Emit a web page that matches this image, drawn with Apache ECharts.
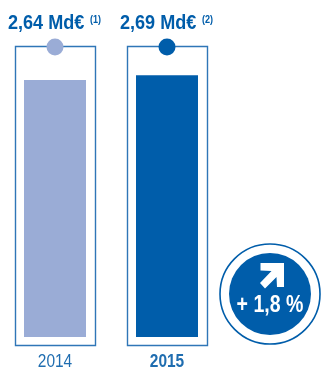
<!DOCTYPE html>
<html>
<head>
<meta charset="utf-8">
<style>html,body{margin:0;padding:0;background:#fff}#chart{width:322px;height:369px}</style>
<script src="https://cdn.jsdelivr.net/npm/echarts@6/dist/echarts.min.js"></script>
</head>
<body>
<div id="chart"></div>
<script>
// Revenue for two years, in billions of euros
const years = ['2014', '2015'];
const values = [2.64, 2.69];
const valueLabels = ['2,64 Md€', '2,69 Md€'];
const notes = ['(1)', '(2)'];
const barColors = ['#9AACD6', '#005DAA'];
const frameTop = 2.99;
const frameBase = -0.08;
const changeLabel = '+ 1,8 %';

const sans = '"Liberation Sans", sans-serif';
const blue = '#005DAA';
const textBlue = '#1F6DB0';
const squeeze = 0.86;

const chart = echarts.init(document.getElementById('chart'), null, { renderer: 'canvas' });
chart.setOption({
  animation: false,
  backgroundColor: '#fff',
  grid: { left: -1, width: 224, top: 45, height: 292 + 0.1 * 97.3, outerBoundsMode: 'none' },
  xAxis: {
    type: 'category',
    data: years,
    axisLine: { show: false },
    axisTick: { show: false },
    axisLabel: { show: false }
  },
  yAxis: { type: 'value', min: -0.1, max: 3, show: false },
  series: [
    {
      // outlined frame behind each bar
      type: 'custom',
      z: 1,
      data: years.map((y, i) => [i, frameBase, frameTop]),
      encode: { x: 0, y: [1, 2] },
      renderItem: (params, api) => {
        const a = api.coord([api.value(0), api.value(1)]);
        const b = api.coord([api.value(0), api.value(2)]);
        return {
          type: 'rect',
          shape: { x: Math.round(a[0] - 40) + 0.5, y: Math.round(b[1]) + 0.5, width: 80, height: Math.round(a[1] - b[1]) },
          style: { fill: '#fff', stroke: '#2F76B7', lineWidth: 1.4 }
        };
      }
    },
    {
      type: 'bar',
      z: 2,
      barWidth: 62,
      data: values.map((v, i) => ({ value: v, itemStyle: { color: barColors[i] } }))
    },
    {
      // dot sitting on the frame
      type: 'scatter',
      z: 3,
      symbolSize: 17,
      symbolOffset: [0, 1],
      data: years.map((y, i) => ({
        value: [i, frameTop],
        itemStyle: { color: barColors[i], opacity: 1 }
      }))
    },
    {
      // condensed value labels, footnote marks and year labels
      type: 'custom',
      z: 4,
      clip: false,
      data: years.map((y, i) => [i, frameTop]),
      encode: { x: 0, y: 1 },
      renderItem: (params, api) => {
        const i = params.dataIndex;
        const p = api.coord([api.value(0), api.value(1)]);
        const zero = api.coord([api.value(0), 0]);
        return {
          type: 'group',
          children: [
            {
              type: 'text', x: p[0] - 47, y: p[1] - 23, scaleX: squeeze,
              style: { text: valueLabels[i], fill: blue, font: 'bold 21px ' + sans, textAlign: 'left', textVerticalAlign: 'middle' }
            },
            {
              type: 'text', x: p[0] + 35, y: p[1] - 26, scaleX: squeeze,
              style: { text: notes[i], fill: blue, font: 'bold 10.5px ' + sans, textAlign: 'left', textVerticalAlign: 'middle' }
            },
            {
              type: 'text', x: p[0], y: zero[1] + 25, scaleX: squeeze,
              style: { text: years[i], fill: textBlue, font: (i === 1 ? 'bold ' : '') + '18px ' + sans, textAlign: 'center', textVerticalAlign: 'middle' }
            }
          ]
        };
      }
    }
  ],
  graphic: [
    { type: 'circle', shape: { cx: 270, cy: 294, r: 50 }, style: { fill: '#fff', stroke: blue, lineWidth: 1.6 } },
    { type: 'circle', shape: { cx: 270, cy: 294, r: 41 }, style: { fill: blue } },
    {
      // upward-right arrow in the badge
      type: 'polygon',
      shape: { points: [[260.5, 263], [284, 263], [284, 287], [277, 287], [276.5, 277], [265, 288.5], [260, 283], [271.5, 271], [260.5, 270.5]] },
      style: { fill: '#fff' }
    },
    {
      type: 'text',
      x: 270, y: 306, scaleX: 0.85,
      style: { text: changeLabel, fill: '#fff', font: 'bold 23px ' + sans, textAlign: 'center', textVerticalAlign: 'middle' }
    }
  ]
});
</script>
</body>
</html>
